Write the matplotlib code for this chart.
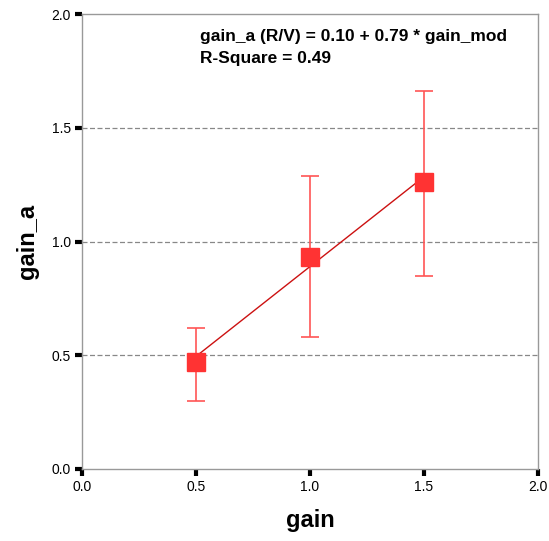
import matplotlib
matplotlib.use("Agg")
import matplotlib.pyplot as plt
import numpy as np

plt.rcParams['font.family'] = ['Liberation Sans', 'DejaVu Sans']

gain = [0.5, 1.0, 1.5]
gain_a_mean = [0.47, 0.93, 1.26]
err_low = [0.30, 0.58, 0.85]
err_high = [0.62, 1.29, 1.66]
intercept = 0.10
slope = 0.79
r_square = 0.49

fig = plt.figure(figsize=(5.49, 5.41), dpi=100)
ax = fig.add_axes([0.1494, 0.1331, 0.8306, 0.841])

ax.set_xlim(0, 2.0)
ax.set_ylim(0, 2.0)
ticks = [0.0, 0.5, 1.0, 1.5, 2.0]
ax.set_xticks(ticks)
ax.set_yticks(ticks)
ax.set_xticklabels([f"{t:.1f}" for t in ticks])
ax.set_yticklabels([f"{t:.1f}" for t in ticks])

for y in [0.5, 1.0, 1.5]:
    ax.axhline(y, color='#888888', linestyle=(0, (4, 2)), linewidth=0.9, zorder=1)

g = np.array(gain)
m = np.array(gain_a_mean)
yerr = [m - np.array(err_low), np.array(err_high) - m]
ax.errorbar(g, m, yerr=yerr, fmt='none', ecolor='#ff5555', elinewidth=1.2,
            capsize=6.5, capthick=1.2, zorder=2)
xl = np.array([min(gain), max(gain)])
ax.plot(xl, intercept + slope * xl, color='#cc1111', linewidth=1.0, zorder=3)
ax.plot(g, m, linestyle='none', marker='s', markersize=12.5,
        color='#ff3333', markeredgecolor='#ff3333', zorder=4)

for s in ax.spines.values():
    s.set_color('#999999')
    s.set_linewidth(1.0)

ax.tick_params(axis='both', direction='out', length=5, width=3, color='black',
               labelsize=10, pad=3)

ax.set_xlabel('gain', fontsize=17, fontweight='bold', labelpad=11)
ax.set_ylabel('gain_a', fontsize=17, fontweight='bold', labelpad=9)

ax.text(0.258, 0.95, f'gain_a (R/V) = {intercept:.2f} + {slope:.2f} * gain_mod',
        transform=ax.transAxes, fontsize=12.5, fontweight='bold', va='center', ha='left')
ax.text(0.258, 0.902, f'R-Square = {r_square:.2f}',
        transform=ax.transAxes, fontsize=12.5, fontweight='bold', va='center', ha='left')

fig.savefig('out.png', dpi=100)
